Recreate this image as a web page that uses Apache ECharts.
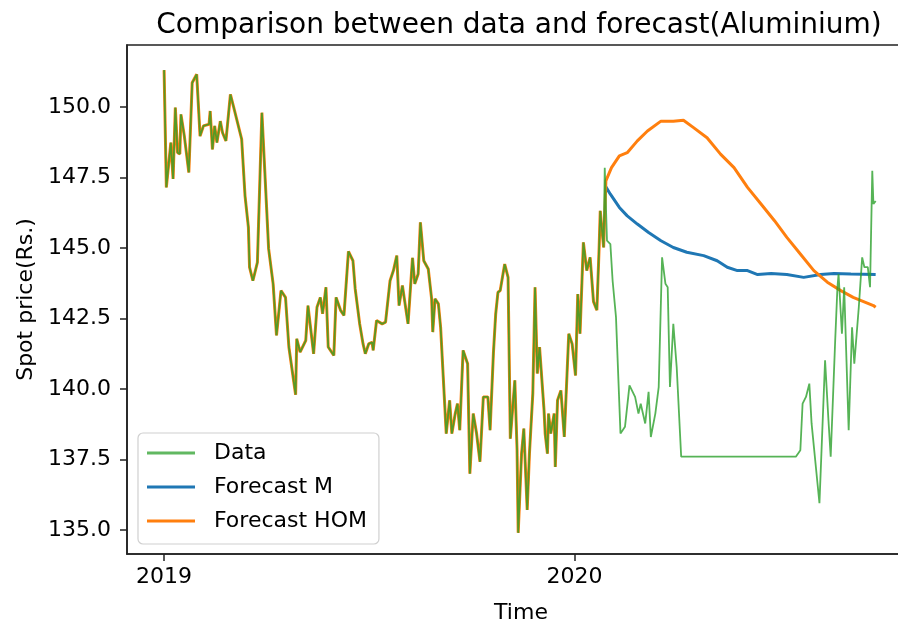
<!DOCTYPE html>
<html>
<head>
<meta charset="utf-8">
<script src="https://cdn.jsdelivr.net/npm/echarts@6/dist/echarts.min.js"></script>
<style>
html,body{margin:0;padding:0;background:#fff;overflow:hidden;}
#chart{width:898px;height:626px;}
</style>
</head>
<body>
<div id="chart"></div>
<script>
// Day offsets are counted from START_DATE
const START_DATE = '2019-01-01';
const dataDays = [0,2,6,8,10,12,14,15,18,22,25,29,32,35,40,41,43,45,47,50,52,55,59,62,69,72,75,76,79,83,87,93,97,100,104,108,111,117,118,121,126,128,133,136,139,141,144,146,151,153,157,160,164,168,170,174,177,179,182,185,186,189,194,197,201,204,207,209,212,217,221,223,226,228,231,235,238,239,241,244,246,251,254,256,259,261,263,266,270,272,275,278,281,284,288,290,293,295,297,299,303,306,308,312,314,315,318,320,323,325,328,330,332,334,338,339,341,342,344,347,348,350,353,356,360,363,366,368,370,373,376,379,382,385,387,388,391,392,394,397,399,402,406,410,414,419,422,424,428,431,433,437,440,443,446,448,450,453,456,460,562,566,568,571,574,576,583,588,591,593,597,599,600,603,605,609,612,614,618,621,623,626,628,630,631,633];
const dataValues = [151.31,147.15,148.74,147.45,149.98,148.38,148.34,149.74,148.97,147.68,150.86,151.16,148.97,149.33,149.39,149.86,148.5,149.33,148.74,149.5,149.09,148.8,150.45,149.98,148.86,146.85,145.73,144.32,143.84,144.49,149.8,144.97,143.73,141.9,143.49,143.25,141.49,139.8,141.78,141.31,141.72,142.96,141.25,142.9,143.25,142.67,143.61,141.49,141.19,143.25,142.79,142.61,144.88,144.55,143.55,142.31,141.6,141.25,141.6,141.66,141.37,142.43,142.31,142.37,143.84,144.2,144.73,142.96,143.67,142.31,144.65,143.73,144.08,145.91,144.55,144.26,143.2,142.02,143.2,143.02,142.19,138.42,139.6,138.42,139.13,139.48,138.54,141.37,140.9,137.0,139.13,138.42,137.42,139.72,139.72,138.54,141.31,142.67,143.43,143.49,144.43,143.96,138.24,140.31,137.83,134.9,137.71,138.6,135.71,137.71,139.84,143.61,140.55,141.49,139.25,138.42,137.71,139.13,138.42,139.13,137.24,139.6,139.95,138.3,141.96,141.6,140.48,143.37,141.96,145.2,144.2,144.67,143.1,142.8,145.02,146.32,145.02,147.85,145.26,145.14,143.84,142.55,138.42,138.66,140.13,139.72,139.13,139.48,138.78,139.9,138.3,139.13,140.07,144.67,143.73,143.61,140.07,142.31,140.78,137.6,137.6,137.83,139.48,139.72,140.19,138.78,135.95,141.02,138.9,137.6,141.72,143.61,144.08,141.96,143.61,138.54,142.19,140.9,142.9,144.67,144.32,144.32,143.61,147.74,146.56,146.67];

// Forecast M (starts at the end of the fitted period)
const mDays = [393,397,405,412,421,431,442,453,465,480,492,501,510,519,528,540,554,569,584,596,611,633];
const mValues = [147.17,146.91,146.44,146.14,145.85,145.55,145.26,145.02,144.85,144.73,144.55,144.32,144.2,144.2,144.06,144.1,144.06,143.96,144.06,144.1,144.08,144.06];

// Forecast HOM (fitted over history up to day 391, then forecast)
const homFitEndDay = 391;
const homDays = [393,398,405,412,421,430,442,453,462,471,483,495,507,519,531,543,554,566,578,590,602,613,631,633];
const homValues = [147.38,147.85,148.27,148.38,148.8,149.15,149.5,149.5,149.53,149.27,148.91,148.33,147.85,147.15,146.56,145.97,145.38,144.79,144.2,143.79,143.49,143.25,142.96,142.9];

const yTicks = [135.0,137.5,140.0,142.5,145.0,147.5,150.0];
const xTickDates = ['2019-01-01','2020-01-01'];
const xTickLabels = ['2019','2020'];
const yMin = 134.15, yMax = 152.2;
const xMinDate = '2018-11-29', xMaxDate = '2020-10-30';

const DAY = 86400000;
function ts(s){ const p = s.split('-').map(Number); return Date.UTC(p[0], p[1]-1, p[2]); }
const t0 = ts(START_DATE);
const pairs = (days, vals) => days.map((d,i) => [t0 + d*DAY, vals[i]]);

const dataSeries = pairs(dataDays, dataValues);
const mSeries = pairs(mDays, mValues);
const homSeries = pairs(dataDays.filter(d => d <= homFitEndDay), dataValues.filter((v,i) => dataDays[i] <= homFitEndDay)).concat(pairs(homDays, homValues));
const xTickTs = xTickDates.map(ts);

const FONT = 'DejaVu Sans';
const chart = echarts.init(document.getElementById('chart'), null, {renderer:'canvas'});
chart.setOption({
  animation:false,
  backgroundColor:'#fff',
  title:{
    text:'Comparison between data and forecast(Aluminium)',
    left:514, top:7, textAlign:'center',
    textStyle:{fontFamily:FONT, fontSize:28, fontWeight:'normal', color:'#000'}
  },
  grid:{left:127, top:45, width:788, bottom:72, show:true, borderColor:'#222', borderWidth:1.6,
    containLabel:false, outerBoundsMode:'none'},
  legend:{
    orient:'vertical', left:138, top:433,
    data:[
      {name:'Data', itemStyle:{opacity:0.75}},
      {name:'Forecast M'},
      {name:'Forecast HOM'}
    ],
    icon:'rect',
    itemWidth:48, itemHeight:3, itemGap:12,
    padding:[9,12,12,9],
    borderColor:'#d0d0d0', borderWidth:1.2, borderRadius:5, backgroundColor:'rgba(255,255,255,0.85)',
    textStyle:{fontFamily:FONT, fontSize:22, color:'#000', padding:[0,0,0,14]}
  },
  xAxis:{
    type:'value', min:ts(xMinDate), max:ts(xMaxDate),
    name:'Time', nameLocation:'middle', nameGap:48,
    nameTextStyle:{fontFamily:FONT, fontSize:22, color:'#000'},
    axisLine:{show:true, lineStyle:{color:'#222', width:1.6}},
    axisTick:{show:true, inside:false, length:7, customValues:xTickTs, lineStyle:{color:'#222', width:1.5}},
    axisLabel:{customValues:xTickTs, margin:12, fontFamily:FONT, fontSize:22, color:'#000',
      formatter:function(v){ const i = xTickTs.indexOf(v); return i>=0 ? xTickLabels[i] : String(new Date(v).getUTCFullYear()); }},
    splitLine:{show:false}
  },
  yAxis:{
    type:'value', min:yMin, max:yMax,
    name:'Spot price(Rs.)', nameLocation:'middle', nameGap:90, nameRotate:90,
    nameTextStyle:{fontFamily:FONT, fontSize:22, color:'#000'},
    axisLine:{show:true, lineStyle:{color:'#222', width:1.6}},
    axisTick:{show:true, inside:false, length:7, customValues:yTicks, lineStyle:{color:'#222', width:1.5}},
    axisLabel:{customValues:yTicks, margin:16, fontFamily:FONT, fontSize:22, color:'#000',
      formatter:function(v){ return Number(v).toFixed(1); }},
    splitLine:{show:false}
  },
  series:[
    {name:'Data', type:'line', data:dataSeries, symbol:'none', z:5,
      color:'#2ca02c', lineStyle:{color:'#2ca02c', width:1.8, opacity:0.8}},
    {name:'Forecast M', type:'line', data:mSeries, symbol:'none', z:3,
      color:'#1f77b4', lineStyle:{color:'#1f77b4', width:3}},
    {name:'Forecast HOM', type:'line', data:homSeries, symbol:'none', z:4,
      color:'#ff7f0e', lineStyle:{color:'#ff7f0e', width:3}}
  ]
});
</script>
</body>
</html>
